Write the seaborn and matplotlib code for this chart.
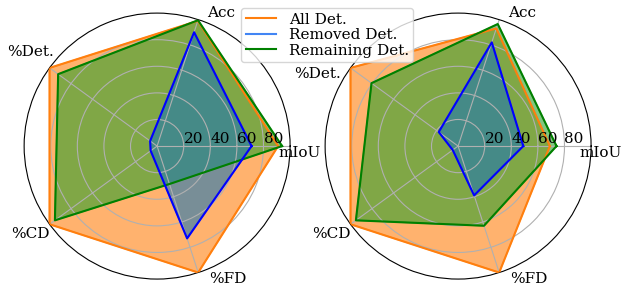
import numpy as np
import matplotlib
matplotlib.use("Agg")
import matplotlib.pyplot as plt
import seaborn as sns
from matplotlib.lines import Line2D

# 資料
categories = ['mIoU', 'Acc', '%Det.', '%CD', '%FD']
series_names = ['All Det.', 'Removed Det.', 'Remaining Det.']

left_all = [91, 99, 100, 100, 100]
left_removed = [71, 90, 6.5, 6, 73]
left_remaining = [94, 99.5, 92, 95, 30]

right_all = [69, 93, 100, 100, 100]
right_removed = [49, 82, 18, 5, 39]
right_remaining = [74, 96.5, 80.5, 95, 63]

r_ticks = [20, 40, 60, 80]

line_colors = ['#ff7f0e', 'blue', 'green']
fill_colors = ['C1', 'C0', 'C2']
legend_colors = ['#ff7f0e', '#4285f4', 'green']

# 軸標籤位置 (角度, 半徑)
left_label_pos = [(-2.8, 107.5), (64.3, 110.7), (143.6, 118.6), (214.7, 116), (298, 113)]
right_label_pos = [(-2.8, 107.5), (64.3, 110.7), (153, 119), (214.7, 116), (298, 113)]

plt.rcParams['font.family'] = ['DejaVu Serif']
plt.rcParams['font.size'] = 11

angles = np.linspace(0, 2 * np.pi, len(categories), endpoint=False)
closed_angles = np.concatenate([angles, angles[:1]])

fig = plt.figure(figsize=(6.22, 2.91), dpi=100)
ax1 = fig.add_axes([0.0386, 0.041, 0.428, 0.914], projection='polar')
ax2 = fig.add_axes([0.5225, 0.041, 0.428, 0.914], projection='polar')


def draw_radar(ax, data_sets, label_pos):
    # 先畫 All, 再 Remaining, 最後 Removed
    for i in [0, 2, 1]:
        vals = np.concatenate([data_sets[i], data_sets[i][:1]])
        ax.fill(closed_angles, vals, color=fill_colors[i], alpha=0.6, zorder=1)
        sns.lineplot(x=closed_angles, y=vals, ax=ax, color=line_colors[i],
                     sort=False, estimator=None, linewidth=1.5, zorder=3)
    ax.set_ylim(0, 100)
    ax.set_yticks(r_ticks)
    ax.set_yticklabels([])
    for t in r_ticks:
        ax.text(0, t, str(t), ha='left', va='bottom', fontsize=11, zorder=5)
    ax.set_xticks(angles)
    ax.set_xticklabels([])
    for name, (deg, r) in zip(categories, label_pos):
        ax.text(np.deg2rad(deg), r, name, ha='center', va='center',
                fontsize=11, zorder=5, clip_on=False)
    ax.set_xlabel('')
    ax.set_ylabel('')
    ax.grid(True, color='#b0b0b0', linewidth=0.8)
    ax.spines['polar'].set_color('black')


draw_radar(ax1, [left_all, left_removed, left_remaining], left_label_pos)
draw_radar(ax2, [right_all, right_removed, right_remaining], right_label_pos)

handles = [Line2D([0], [0], color=c, linewidth=1.5) for c in legend_colors]
fig.legend(handles, series_names, loc='upper left', bbox_to_anchor=(0.388, 0.972),
           borderaxespad=0, handlelength=2.0, labelspacing=0.1, borderpad=0.3)

fig.savefig('out.png', dpi=100)
